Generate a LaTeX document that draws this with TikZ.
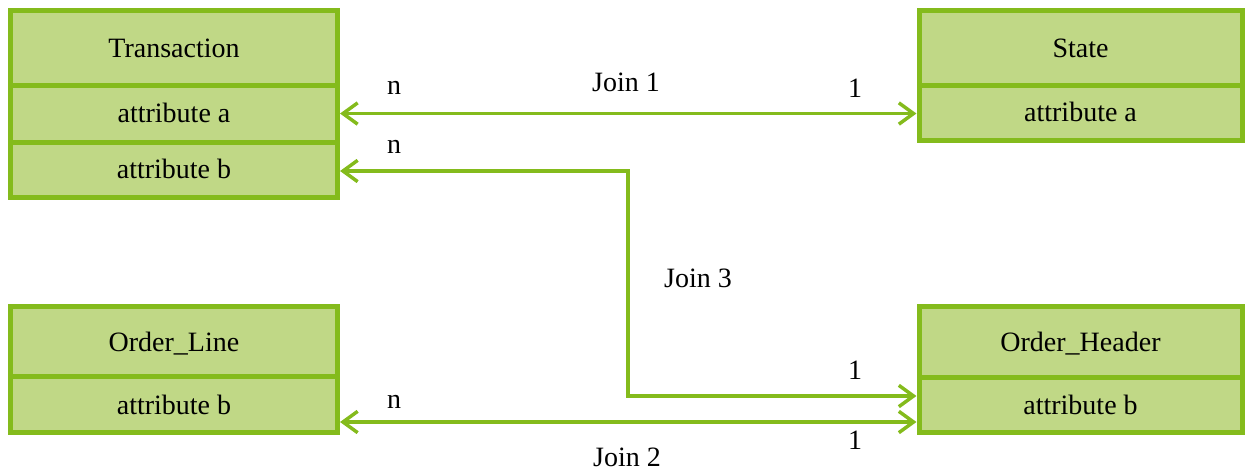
\documentclass[tikz,border=0pt]{standalone}
\usepackage{fontspec}
\setmainfont{Liberation Serif}
\usetikzlibrary{arrows.meta}
\definecolor{boxfill}{RGB}{192,216,134}
\definecolor{boxline}{RGB}{132,187,28}
\begin{document}
\begin{tikzpicture}[x=0.75pt,y=-0.75pt,
  font=\fontsize{21}{25}\selectfont,
  row/.style={draw=boxline, fill=boxfill, line width=3.75pt, anchor=north west,
    inner sep=0pt, outer sep=0pt, text height=14pt, text depth=0pt},
  wide/.style={minimum width=245.25pt},
  narrow/.style={minimum width=242.25pt},
  link/.style={draw=boxline, line width=2.6pt, shorten <=1.9pt, shorten >=1.9pt,
    >={Straight Barb[length=11pt,width=16pt]}},
  lbl/.style={anchor=base, inner sep=0pt}]
\useasboundingbox (0,0) rectangle (1245,473);

% Transaction
\node[row, wide, minimum height=55.9pt] (t) at (10.5,10.5) {Transaction};
\node[row, wide, minimum height=42.75pt] (ta) at (t.south west) {attribute a};
\node[row, wide, minimum height=41.25pt] (tb) at (ta.south west) {attribute b};

% State
\node[row, narrow, minimum height=55.9pt] (s) at (919,10.5) {State};
\node[row, narrow, minimum height=41.25pt] (sa) at (s.south west) {attribute a};

% Order_Line
\node[row, wide, minimum height=52.5pt] (ol) at (10.5,307) {Order\_Line};
\node[row, wide, minimum height=42pt] (olb) at (ol.south west) {attribute b};

% Order_Header
\node[row, narrow, minimum height=53.25pt] (oh) at (919,307) {Order\_Header};
\node[row, narrow, minimum height=41.25pt] (ohb) at (oh.south west) {attribute b};

% connector points
\coordinate (j3top) at (628,171);
\coordinate (j3bot) at (628,396);
\coordinate (j2) at (628,422);

% Join 1
\draw[link,<->] (ta.east) -- (ta.east -| sa.west);
% Join 3
\draw[link,<->,line join=miter] (tb.east |- j3top) -- (j3top) -- (j3bot) -- (j3bot -| ohb.west);
% Join 2
\draw[link,<->] (olb.east |- j2) -- (j2 -| ohb.west);

% labels
\node[lbl] (n1) at (394,95) {n};
\node[lbl] (jl1) at (626,92) {Join 1};
\node[lbl] (o1) at (855,98) {1};
\node[lbl] (n3) at (394,154) {n};
\node[lbl] (jl3) at (698,288) {Join 3};
\node[lbl] (o3) at (855,380) {1};
\node[lbl] (n2) at (394,409) {n};
\node[lbl] (o2) at (855,450) {1};
\node[lbl] (jl2) at (627,466) {Join 2};
\end{tikzpicture}
\end{document}
